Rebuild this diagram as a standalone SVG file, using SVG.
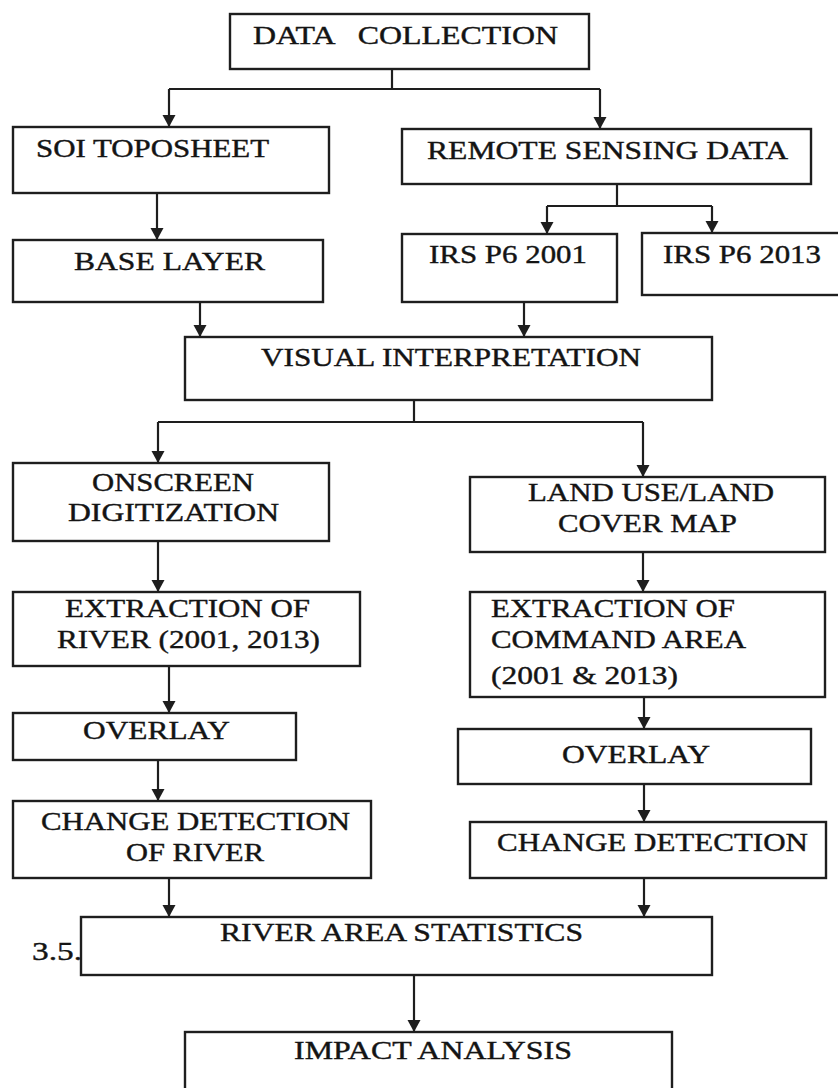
<svg xmlns="http://www.w3.org/2000/svg" width="838" height="1088" viewBox="0 0 838 1088">
<style>
.box{fill:#fff;stroke:#1e1e1e;stroke-width:2.4}
.t{font-family:"Liberation Serif","Times New Roman",serif;font-size:26px;fill:#141414;stroke:#141414;stroke-width:0.4;white-space:pre}
.c{fill:none;stroke:#1e1e1e;stroke-width:2.2}
.a{marker-end:url(#ah)}
</style>
<defs>
<marker id="ah" markerUnits="userSpaceOnUse" markerWidth="14" markerHeight="14" refX="12" refY="6.5" orient="auto">
<path d="M0,0 L12,6.5 L0,13 z" fill="#1e1e1e"/>
</marker>
</defs>
<rect width="838" height="1088" fill="#fff"/>
<g id="connectors">
<path class="c" d="M392,69 V89 M169,89 H600"/>
<path class="c a" d="M169,89 V127"/>
<path class="c a" d="M600,89 V129"/>
<path class="c a" d="M157,193 V240"/>
<path class="c" d="M617,184 V206 M547,206 H712"/>
<path class="c a" d="M547,206 V234"/>
<path class="c a" d="M712,206 V233"/>
<path class="c a" d="M200,296 V337"/>
<path class="c a" d="M524,302 V337"/>
<path class="c" d="M414,400 V422 M158,422 H643"/>
<path class="c a" d="M158,422 V463"/>
<path class="c a" d="M643,422 V477"/>
<path class="c a" d="M158,541 V592"/>
<path class="c a" d="M643,552 V592"/>
<path class="c a" d="M169,666 V713"/>
<path class="c a" d="M644,697 V729"/>
<path class="c a" d="M158,757 V801"/>
<path class="c a" d="M644,784 V822"/>
<path class="c a" d="M169,878 V917"/>
<path class="c a" d="M644,878 V917"/>
<path class="c a" d="M414,975 V1032"/>
</g>
<g id="data-collection">
<rect class="box" x="230" y="14" width="359" height="55"/>
<text class="t" x="253" y="44" textLength="305" lengthAdjust="spacingAndGlyphs" xml:space="preserve">DATA   COLLECTION</text>
</g>
<g id="soi-toposheet">
<rect class="box" x="13" y="127" width="316" height="66"/>
<text class="t" x="36" y="157" textLength="233" lengthAdjust="spacingAndGlyphs">SOI TOPOSHEET</text>
</g>
<g id="remote-sensing">
<rect class="box" x="402" y="129" width="409" height="55"/>
<text class="t" x="427" y="159" textLength="361" lengthAdjust="spacingAndGlyphs">REMOTE SENSING DATA</text>
</g>
<g id="base-layer">
<rect class="box" x="13" y="240" width="310" height="62"/>
<text class="t" x="74" y="270" textLength="191" lengthAdjust="spacingAndGlyphs">BASE LAYER</text>
</g>
<g id="irs-2001">
<rect class="box" x="402" y="234" width="215" height="68"/>
<text class="t" x="429" y="263" textLength="158" lengthAdjust="spacingAndGlyphs">IRS P6 2001</text>
</g>
<g id="irs-2013">
<rect class="box" x="642" y="233" width="210" height="62"/>
<text class="t" x="663" y="263" textLength="158" lengthAdjust="spacingAndGlyphs">IRS P6 2013</text>
</g>
<g id="visual-interpretation">
<rect class="box" x="185" y="337" width="527" height="63"/>
<text class="t" x="261" y="366" textLength="380" lengthAdjust="spacingAndGlyphs">VISUAL INTERPRETATION</text>
</g>
<g id="onscreen">
<rect class="box" x="13" y="463" width="316" height="78"/>
<text class="t" x="92" y="491" textLength="162" lengthAdjust="spacingAndGlyphs">ONSCREEN</text>
<text class="t" x="68" y="521" textLength="211" lengthAdjust="spacingAndGlyphs">DIGITIZATION</text>
</g>
<g id="land-use">
<rect class="box" x="470" y="477" width="355" height="75"/>
<text class="t" x="528" y="501" textLength="246" lengthAdjust="spacingAndGlyphs">LAND USE/LAND</text>
<text class="t" x="558" y="532" textLength="179" lengthAdjust="spacingAndGlyphs">COVER MAP</text>
</g>
<g id="extraction-river">
<rect class="box" x="13" y="592" width="347" height="74"/>
<text class="t" x="65" y="617" textLength="245" lengthAdjust="spacingAndGlyphs">EXTRACTION OF</text>
<text class="t" x="57" y="648" textLength="263" lengthAdjust="spacingAndGlyphs">RIVER (2001, 2013)</text>
</g>
<g id="extraction-command">
<rect class="box" x="470" y="592" width="355" height="105"/>
<text class="t" x="491" y="617" textLength="244" lengthAdjust="spacingAndGlyphs">EXTRACTION OF</text>
<text class="t" x="491" y="648" textLength="255" lengthAdjust="spacingAndGlyphs">COMMAND AREA</text>
<text class="t" x="491" y="684" textLength="187" lengthAdjust="spacingAndGlyphs">(2001 &amp; 2013)</text>
</g>
<g id="overlay-left">
<rect class="box" x="13" y="713" width="283" height="47"/>
<text class="t" x="83" y="739" textLength="147" lengthAdjust="spacingAndGlyphs">OVERLAY</text>
</g>
<g id="overlay-right">
<rect class="box" x="458" y="729" width="353" height="55"/>
<text class="t" x="562" y="763" textLength="148" lengthAdjust="spacingAndGlyphs">OVERLAY</text>
</g>
<g id="change-river">
<rect class="box" x="13" y="801" width="358" height="77"/>
<text class="t" x="41" y="830" textLength="309" lengthAdjust="spacingAndGlyphs">CHANGE DETECTION</text>
<text class="t" x="126" y="861" textLength="138" lengthAdjust="spacingAndGlyphs">OF RIVER</text>
</g>
<g id="change-detection">
<rect class="box" x="470" y="822" width="356" height="56"/>
<text class="t" x="497" y="851" textLength="311" lengthAdjust="spacingAndGlyphs">CHANGE DETECTION</text>
</g>
<g id="river-area-statistics">
<text class="t" x="32" y="960" textLength="50" lengthAdjust="spacingAndGlyphs">3.5.</text>
<rect class="box" x="81" y="917" width="631" height="58"/>
<text class="t" x="220" y="941" textLength="363" lengthAdjust="spacingAndGlyphs">RIVER AREA STATISTICS</text>
</g>
<g id="impact-analysis">
<rect class="box" x="185" y="1032" width="487" height="80"/>
<text class="t" x="294" y="1059" textLength="278" lengthAdjust="spacingAndGlyphs">IMPACT ANALYSIS</text>
</g>
</svg>
